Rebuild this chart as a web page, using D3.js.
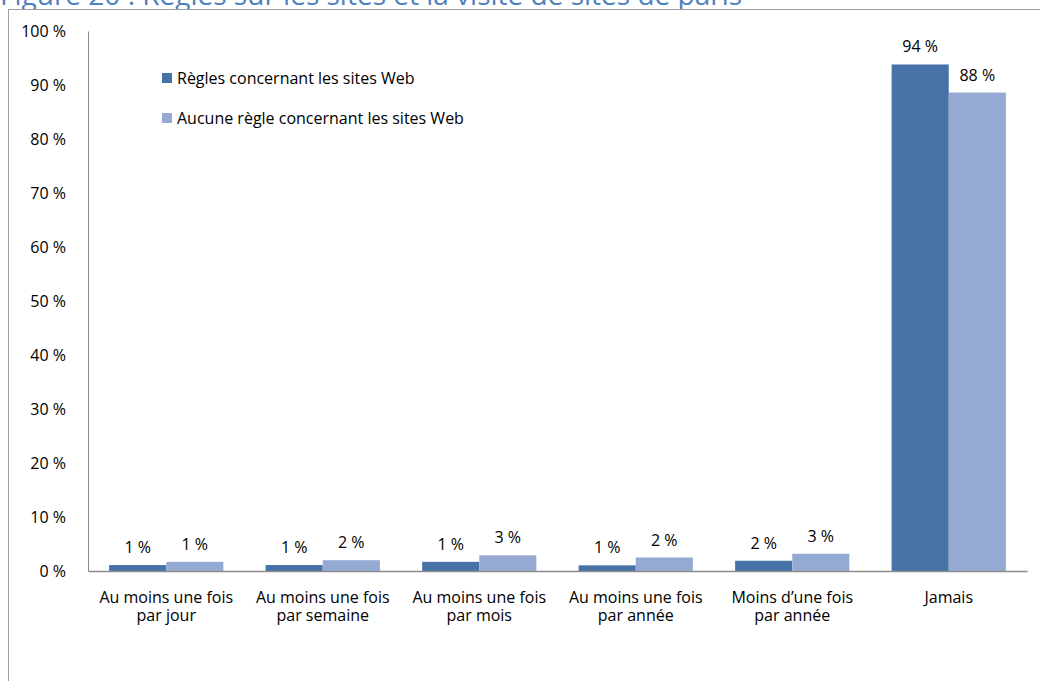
<!DOCTYPE html>
<html>
<head>
<meta charset="utf-8">
<script src="https://cdn.jsdelivr.net/npm/d3@7"></script>
<style>
  body { margin: 0; background: #fff; }
  text { font-family: "Open Sans", sans-serif; fill: #000; }
</style>
</head>
<body>
<svg id="chart"></svg>
<script>
const categories = [
    ["Au moins une fois", "par jour"],
    ["Au moins une fois", "par semaine"],
    ["Au moins une fois", "par mois"],
    ["Au moins une fois", "par année"],
    ["Moins d\u2019une fois", "par année"],
    ["Jamais"]
]
const seriesNames = ["Règles concernant les sites Web", "Aucune règle concernant les sites Web"]
const rulesValues = [1.1, 1.1, 1.7, 1.05, 1.9, 93.8]
const noRulesValues = [1.7, 2.0, 2.9, 2.5, 3.2, 88.6]
const rulesLabels = ["1 %", "1 %", "1 %", "1 %", "2 %", "94 %"]
const noRulesLabels = ["1 %", "2 %", "3 %", "2 %", "3 %", "88 %"]
const yTicks = [0, 10, 20, 30, 40, 50, 60, 70, 80, 90, 100]
const colors = ["#4672a8", "#95aad3"]

const width = 1040, height = 681
const plotLeft = 88, plotRight = 1027, plotTop = 31, plotBottom = 571
const fontSize = "16px"

const svg = d3.select("#chart")
    .attr("width", width)
    .attr("height", height)

// title, cut off by the top of the page
svg.append("text")
    .attr("x", 0)
    .attr("y", 5)
    .style("font-size", "28px")
    .style("fill", "#4f81bd")
    .text("Figure 20 : Règles sur les sites et la visite de sites de paris")

// outer frame of the chart object
svg.append("rect")
    .attr("x", 8.5)
    .attr("y", 9.5)
    .attr("width", 1100)
    .attr("height", 800)
    .attr("fill", "#fff")
    .attr("stroke", "#a0a0a0")
    .attr("stroke-width", 1)

const idx = d3.range(categories.length)

const x0 = d3.scaleBand()
    .domain(idx)
    .range([plotLeft, plotRight])
    .padding(0)

const x1 = d3.scaleBand()
    .domain([0, 1])
    .range([0, x0.bandwidth()])
    .paddingInner(0)
    .paddingOuter(0.37)

const y = d3.scaleLinear()
    .domain([0, 100])
    .range([plotBottom, plotTop])

const series = [rulesValues, noRulesValues]
const labels = [rulesLabels, noRulesLabels]

series.forEach((vals, s) => {
    const g = svg.append("g")
    g.selectAll("rect")
        .data(vals)
        .join("rect")
        .attr("x", (d, i) => x0(i) + x1(s))
        .attr("y", d => y(d))
        .attr("width", x1.bandwidth())
        .attr("height", d => y(0) - y(d))
        .attr("fill", colors[s])

    g.selectAll("text")
        .data(vals)
        .join("text")
        .attr("x", (d, i) => x0(i) + x1(s) + x1.bandwidth() / 2)
        .attr("y", d => y(d) - 12)
        .attr("text-anchor", "middle")
        .style("font-size", fontSize)
        .text((d, i) => labels[s][i])
})

// y axis
const yAxis = d3.axisLeft(y)
    .tickValues(yTicks)
    .tickSize(0)
    .tickPadding(22)
    .tickFormat(d => d + " %")

const yg = svg.append("g")
    .attr("transform", `translate(${plotLeft},0)`)
    .call(yAxis)
yg.select(".domain").attr("stroke", "#8c8c8c")
yg.selectAll(".tick text")
    .style("font-size", fontSize)
    .style("font-family", "Open Sans, sans-serif")
    .attr("fill", "#000")

// x axis
const xAxis = d3.axisBottom(x0)
    .tickSize(0)
    .tickFormat("")

const xg = svg.append("g")
    .attr("transform", `translate(0,${plotBottom})`)
    .call(xAxis)
xg.select(".domain").attr("stroke", "#8c8c8c").attr("stroke-width", 1.5)

xg.selectAll(".tick").each(function (d) {
    const tick = d3.select(this)
    categories[d].forEach((line, k) => {
        tick.append("text")
            .attr("x", 0)
            .attr("y", 32 + k * 18)
            .attr("text-anchor", "middle")
            .style("font-size", fontSize)
            .style("font-family", "Open Sans, sans-serif")
            .attr("fill", "#000")
            .text(line)
    })
})

// legend
const legend = svg.append("g")
    .attr("transform", "translate(162,73)")
seriesNames.forEach((name, s) => {
    legend.append("rect")
        .attr("x", 0)
        .attr("y", s * 40)
        .attr("width", 10)
        .attr("height", 10)
        .attr("fill", colors[s])
    legend.append("text")
        .attr("x", 15)
        .attr("y", s * 40 + 11)
        .style("font-size", fontSize)
        .text(name)
})
</script>
</body>
</html>
